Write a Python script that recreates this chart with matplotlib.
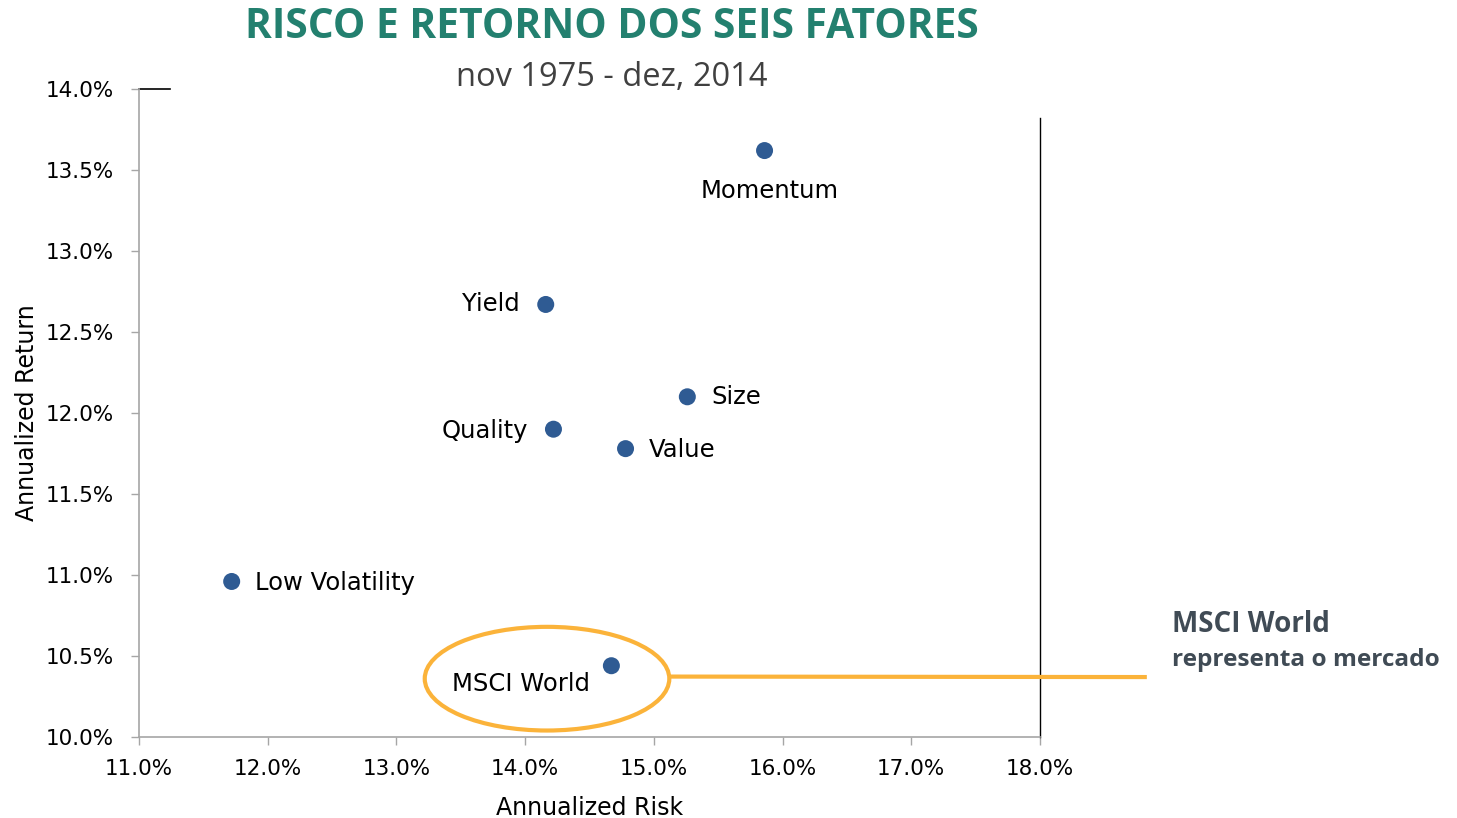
import matplotlib
matplotlib.use("Agg")
import matplotlib.pyplot as plt
from matplotlib.patches import Ellipse
from matplotlib.ticker import FuncFormatter

# ---- data ----
factors = ["Momentum", "Yield", "Size", "Quality", "Value", "Low Volatility", "MSCI World"]
risk = [15.86, 14.16, 15.26, 14.22, 14.78, 11.72, 14.67]
ret = [13.62, 12.67, 12.10, 11.90, 11.78, 10.96, 10.44]
xticks = [11.0, 12.0, 13.0, 14.0, 15.0, 16.0, 17.0, 18.0]
yticks = [10.0, 10.5, 11.0, 11.5, 12.0, 12.5, 13.0, 13.5, 14.0]

# label offsets (points) and alignment
label_style = {
    "Momentum": ((4, -29), "center"),
    "Yield": ((-19, 0), "right"),
    "Size": ((17, 0), "left"),
    "Quality": ((-18, -1), "right"),
    "Value": ((17, -1), "left"),
    "Low Volatility": ((17, -1), "left"),
    "MSCI World": ((-65, -13), "center"),
}

fig = plt.figure(figsize=(14.57, 8.18), dpi=100)
ax = fig.add_axes([139/1457, 1-737/818, (1040-139)/1457, (737-89)/818])

ax.scatter(risk, ret, s=150, color="#2F5B93", zorder=3, edgecolors="none")

label_font = ["DejaVu Sans"]
for name, x, y in zip(factors, risk, ret):
    off, ha = label_style[name]
    ax.annotate(name, (x, y), xytext=off, textcoords="offset points",
                ha=ha, va="center", fontsize=17.5, family=label_font, color="black")

ax.set_xlim(xticks[0], xticks[-1])
ax.set_ylim(yticks[0], yticks[-1])
ax.set_xticks(xticks)
ax.set_yticks(yticks)
ax.xaxis.set_major_formatter(FuncFormatter(lambda v, p: f"{v:.1f}%"))
ax.yaxis.set_major_formatter(FuncFormatter(lambda v, p: f"{v:.1f}%"))
for lab in ax.get_xticklabels() + ax.get_yticklabels():
    lab.set_family(label_font)
    lab.set_fontsize(15.5)
ax.tick_params(axis="both", direction="out", length=6, color="#A6A6A6", width=1)
ax.tick_params(axis="x", pad=10)
ax.tick_params(axis="y", pad=12)

for side in ["top", "right"]:
    ax.spines[side].set_visible(False)
for side in ["left", "bottom"]:
    ax.spines[side].set_color("#A6A6A6")
    ax.spines[side].set_linewidth(1.2)

# black vertical line at right and short top stub
ax.plot([18.0, 18.0], [10.0, 13.82], color="black", lw=1, clip_on=False, zorder=2)
ax.plot([11.0, 11.24], [14.0, 14.0], color="black", lw=1.2, clip_on=False, zorder=2)

ax.set_xlabel("Annualized Risk", fontsize=17, family=label_font, labelpad=12)
ax.set_ylabel("Annualized Return", fontsize=17, family=label_font, labelpad=5)

# callout ellipse around MSCI World
mx, my = risk[-1], ret[-1]
ell = Ellipse((mx - 0.50, my - 0.08), 1.90, 0.64, fill=False,
              edgecolor="#FBB33A", lw=3, clip_on=False, zorder=2)
ax.add_patch(ell)
ax.plot([mx - 0.50 + 0.95, 18.83], [my - 0.067, my - 0.07], color="#FBB33A",
        lw=3, clip_on=False, zorder=2, solid_capstyle="butt")

fig.text(1172/1457, 1-624/818, "MSCI World", fontsize=20, fontweight="bold",
         color="#404B55", ha="left", va="center", family=["Open Sans", "DejaVu Sans"])
fig.text(1172/1457, 1-660/818, "representa o mercado", fontsize=17.6, fontweight="bold",
         color="#404B55", ha="left", va="center", family=["Open Sans", "DejaVu Sans"])

fig.text(612/1457, 1-27/818, "RISCO E RETORNO DOS SEIS FATORES", fontsize=29.3,
         fontweight="bold", color="#23806F", ha="center", va="center",
         family=["Open Sans", "DejaVu Sans"])
fig.text(612/1457, 1-77/818, "nov 1975 - dez, 2014", fontsize=23.5,
         color="#404040", ha="center", va="center", family=["Open Sans", "DejaVu Sans"])

fig.savefig("out.png", dpi=100, facecolor="white")
